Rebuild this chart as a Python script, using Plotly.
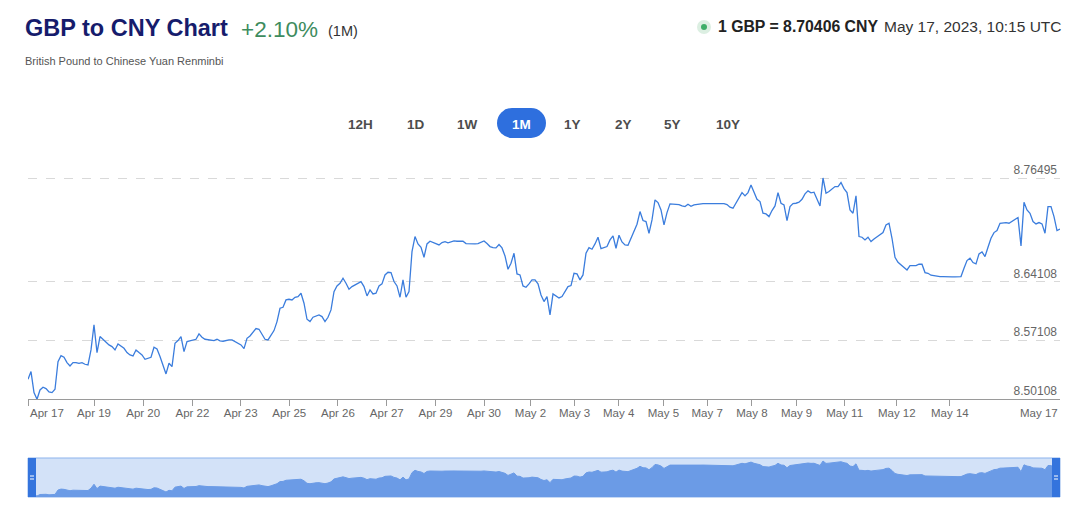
import plotly.graph_objects as go

# ---------------- data ----------------
rates = [
    8.52497, 8.53411, 8.50907, 8.50108, 8.51225, 8.51543, 8.51384, 8.50986, 8.50907, 8.51304,
    8.54604, 8.55319, 8.55120, 8.54485, 8.54087, 8.54485, 8.54485, 8.54405, 8.54485, 8.54286,
    8.54206, 8.55995, 8.58976, 8.55677, 8.57585, 8.57267, 8.56989, 8.56591, 8.56393, 8.55995,
    8.56711, 8.56472, 8.56194, 8.55677, 8.55399, 8.55280, 8.55995, 8.55677, 8.55399, 8.54882,
    8.54962, 8.55120, 8.56313, 8.56114, 8.55200, 8.54087, 8.53133, 8.54405, 8.54008, 8.56790,
    8.57108, 8.57585, 8.55796, 8.56989, 8.57108, 8.57148, 8.57267, 8.57903, 8.57506, 8.57267,
    8.57188, 8.57188, 8.57108, 8.57267, 8.57068, 8.57029, 8.57148, 8.57188, 8.57188, 8.56989,
    8.56790, 8.56591, 8.56154, 8.57386, 8.57665, 8.58062, 8.58539, 8.58460, 8.57903, 8.57267,
    8.57188, 8.57784, 8.58301, 8.59374, 8.60964, 8.61083, 8.61958, 8.62037, 8.61958, 8.62276,
    8.62355, 8.62753, 8.61560, 8.59652, 8.59374, 8.59891, 8.60050, 8.60169, 8.59970, 8.59374,
    8.59891, 8.60765, 8.62951, 8.63627, 8.63945, 8.64541, 8.63945, 8.63230, 8.63548, 8.63746,
    8.64025, 8.64144, 8.63548, 8.62435, 8.63150, 8.62673, 8.62753, 8.63627, 8.63866, 8.64939,
    8.65257, 8.65217, 8.64144, 8.63627, 8.62276, 8.64343, 8.62276, 8.62951, 8.67721, 8.69510,
    8.68636, 8.68238, 8.67046, 8.68636, 8.68954, 8.68834, 8.68715, 8.68516, 8.68795, 8.68914,
    8.68755, 8.68874, 8.68993, 8.68954, 8.68914, 8.68954, 8.68675, 8.68636, 8.68636, 8.68636,
    8.68675, 8.68795, 8.68993, 8.68675, 8.68318, 8.68198, 8.68159, 8.68556, 8.68159, 8.67205,
    8.65615, 8.66330, 8.67522, 8.65058, 8.64939, 8.63627, 8.63468, 8.63866, 8.64343, 8.64343,
    8.63866, 8.62554, 8.61759, 8.62355, 8.60169, 8.62673, 8.62435, 8.62196, 8.62355, 8.62951,
    8.63548, 8.63667, 8.65138, 8.65058, 8.64343, 8.64939, 8.67522, 8.68198, 8.68000, 8.68636,
    8.69431, 8.68079, 8.68198, 8.68318, 8.69113, 8.69590, 8.68119, 8.69669, 8.68874, 8.68516,
    8.68477, 8.69311, 8.69987, 8.70981, 8.72491, 8.71418, 8.71299, 8.69908, 8.71498, 8.73883,
    8.73565, 8.72690, 8.70901, 8.72372, 8.73406, 8.73406, 8.73366, 8.73326, 8.73167, 8.73088,
    8.73366, 8.73127, 8.73286, 8.73366, 8.73406, 8.73445, 8.73445, 8.73445, 8.73445, 8.73445,
    8.73445, 8.73445, 8.73445, 8.73326, 8.73008, 8.72889, 8.73485, 8.74200, 8.74757, 8.74360,
    8.74757, 8.75671, 8.74757, 8.73962, 8.73684, 8.72292, 8.72213, 8.71895, 8.72610, 8.73167,
    8.74757, 8.73485, 8.73286, 8.71418, 8.73088, 8.73445, 8.73485, 8.73604, 8.73962, 8.74598,
    8.74956, 8.74717, 8.74797, 8.73962, 8.73167, 8.76495, 8.74678, 8.74876, 8.75234, 8.75473,
    8.75473, 8.75950, 8.75234, 8.74757, 8.72690, 8.72292, 8.74360, 8.69510, 8.69431, 8.69113,
    8.69431, 8.68914, 8.69232, 8.69510, 8.69709, 8.69987, 8.70901, 8.71100, 8.69311, 8.67046,
    8.66449, 8.66171, 8.65853, 8.65535, 8.66052, 8.66092, 8.66052, 8.66211, 8.66211, 8.65217,
    8.65138, 8.64899, 8.64820, 8.64820, 8.64740, 8.64740, 8.64700, 8.64700, 8.64700, 8.64700,
    8.64700, 8.64740, 8.65734, 8.66648, 8.66926, 8.66410, 8.66251, 8.67443, 8.67681, 8.67125,
    8.68238, 8.69311, 8.69987, 8.70225, 8.71100, 8.71140, 8.71179, 8.71100, 8.71299, 8.71498,
    8.71776, 8.68397, 8.73604, 8.72690, 8.72292, 8.71299, 8.71020, 8.71179, 8.71020, 8.69908,
    8.73088, 8.73088, 8.71895, 8.70225, 8.70406,
]

# x-axis ticks: position in the (ordinal) sample index and their labels
tick_index = [0, 22, 38.4, 54.8, 70.9, 87.1, 103.3, 119.6, 135.8, 152, 167.5,
              182.2, 196.9, 211.8, 226.4, 241.3, 256.2, 272.2, 289.6, 307.3, 344]
tick_labels = ["Apr 17", "Apr 19", "Apr 20", "Apr 22", "Apr 23", "Apr 25", "Apr 26",
               "Apr 27", "Apr 29", "Apr 30", "May 2", "May 3", "May 4", "May 5",
               "May 7", "May 8", "May 9", "May 11", "May 12", "May 14", "May 17"]

y_ticks = [8.50108, 8.57108, 8.64108, 8.76495]
y_tick_labels = ["8.50108", "8.57108", "8.64108", "8.76495"]

range_buttons = ["12H", "1D", "1W", "1M", "1Y", "2Y", "5Y", "10Y"]
selected_button = "1M"

title = "GBP to CNY Chart"
change = "+2.10%"
period = "(1M)"
subtitle = "British Pound to Chinese Yuan Renminbi"
quote = "1 GBP = 8.70406 CNY"
stamp = "May 17, 2023, 10:15 UTC"

# ---------------- layout helpers ----------------
W, H = 1080, 513
FONT = "Liberation Sans, Arial, Helvetica, sans-serif"


def px(x):
    return x / W


def py(y):
    return 1 - y / H


x = list(range(len(rates)))

fig = go.Figure()
fig.add_trace(go.Scatter(
    x=x, y=rates, mode="lines", xaxis="x", yaxis="y",
    line=dict(color="#3b7ddd", width=1.3), hoverinfo="skip", showlegend=False))
fig.add_trace(go.Scatter(
    x=x, y=rates, mode="lines", xaxis="x2", yaxis="y2", fill="tozeroy",
    fillcolor="#6b9be6", line=dict(color="#6b9be6", width=1),
    hoverinfo="skip", showlegend=False))

main_ticktext = [""] + tick_labels[1:-1] + [""]

fig.update_layout(
    width=W, height=H,
    margin=dict(l=0, r=0, t=0, b=0),
    paper_bgcolor="white", plot_bgcolor="rgba(0,0,0,0)",
    font=dict(family=FONT, color="#333"),
    xaxis=dict(domain=[px(28), px(1060)], range=[0, 344], anchor="y",
               showgrid=False, zeroline=False, showline=True,
               linecolor="#9a9a9a", linewidth=1,
               ticks="outside", ticklen=6, tickcolor="#9a9a9a",
               ticklabelstandoff=-3,
               tickmode="array", tickvals=tick_index, ticktext=main_ticktext,
               tickfont=dict(size=11.5, color="#666")),
    yaxis=dict(domain=[py(399.45), py(160)], range=[8.5009, 8.78641], anchor="x",
               side="right", ticklabelposition="inside top",
               showgrid=True, griddash="dash", gridcolor="#d9d9d9", gridwidth=1,
               zeroline=False, showline=False, ticks="",
               tickmode="array", tickvals=y_ticks, ticktext=y_tick_labels,
               tickfont=dict(size=12, color="#666")),
    xaxis2=dict(domain=[px(28), px(1060)], range=[0, 344], anchor="y2",
                visible=False),
    yaxis2=dict(domain=[py(497), py(458)], range=[8.4935, 8.7876], anchor="x2",
                visible=False),
)

shapes = []
# navigator background and outline
shapes.append(dict(type="rect", xref="paper", yref="paper",
                   x0=px(28), x1=px(1060), y0=py(497), y1=py(458),
                   fillcolor="#d3e2f8", line=dict(color="#8db3ec", width=1),
                   layer="below"))
# navigator handles
for hx in (28, 1052):
    shapes.append(dict(type="rect", xref="paper", yref="paper",
                       x0=px(hx), x1=px(hx + 8), y0=py(497), y1=py(458),
                       fillcolor="#3474dd", line=dict(width=0)))
    for gy in (476, 479):
        shapes.append(dict(type="line", xref="paper", yref="paper",
                           x0=px(hx + 2), x1=px(hx + 6), y0=py(gy), y1=py(gy),
                           line=dict(color="white", width=1)))

# range-selector pill behind selected button
pl, pr, pt, pb = 497, 546, 108, 138
r = (pb - pt) / 2
shapes.append(dict(type="circle", xref="paper", yref="paper",
                   x0=px(pl), x1=px(pl + 2 * r), y0=py(pb), y1=py(pt),
                   fillcolor="#2e6fde", line=dict(width=0)))
shapes.append(dict(type="circle", xref="paper", yref="paper",
                   x0=px(pr - 2 * r), x1=px(pr), y0=py(pb), y1=py(pt),
                   fillcolor="#2e6fde", line=dict(width=0)))
shapes.append(dict(type="rect", xref="paper", yref="paper",
                   x0=px(pl + r), x1=px(pr - r), y0=py(pb), y1=py(pt),
                   fillcolor="#2e6fde", line=dict(width=0)))

# live dot
shapes.append(dict(type="circle", xref="paper", yref="paper",
                   x0=px(697), x1=px(711), y0=py(34), y1=py(20),
                   fillcolor="#dcefe2", line=dict(width=0)))
shapes.append(dict(type="circle", xref="paper", yref="paper",
                   x0=px(701), x1=px(707), y0=py(30), y1=py(24),
                   fillcolor="#3fae69", line=dict(width=0)))

fig.update_layout(shapes=shapes)

ann = []


def text(t, x0, y0, size, color, xanchor="left", bold=False, yanchor="middle"):
    ann.append(dict(text=("<b>%s</b>" % t) if bold else t, x=px(x0), y=py(y0),
                    xref="paper", yref="paper", xanchor=xanchor, yanchor=yanchor,
                    showarrow=False, font=dict(size=size, color=color, family=FONT)))


text(title, 23, 28, 23.5, "#161c6c", bold=True)
text(change, 239, 29, 22.5, "#3e8c5e")
text(period, 326, 31, 14.5, "#333")
text(subtitle, 23, 61, 11, "#555")
text(quote, 716, 27, 15.8, "#222", bold=True)
text(stamp, 1064, 27, 15.5, "#333", xanchor="right")

button_x = [360, 415.5, 467, 521.5, 572.5, 623, 672.5, 727.5]
for b, bx in zip(range_buttons, button_x):
    text(b, bx, 124, 13.5, "white" if b == selected_button else "#4d4d4d",
         xanchor="center", bold=True)

# edge x tick labels (justified inside the plot like the original)
ann.append(dict(text=tick_labels[0], x=tick_index[0], xref="x", y=py(404.5), yref="paper",
                xanchor="left", yanchor="top", showarrow=False,
                font=dict(size=11.5, color="#666", family=FONT)))
ann.append(dict(text=tick_labels[-1], x=tick_index[-1], xref="x", y=py(404.5), yref="paper",
                xanchor="right", yanchor="top", showarrow=False,
                font=dict(size=11.5, color="#666", family=FONT)))

fig.update_layout(annotations=ann)

fig.write_html("out.html", config={"displayModeBar": False},
               post_script="document.body.style.margin='0';")
